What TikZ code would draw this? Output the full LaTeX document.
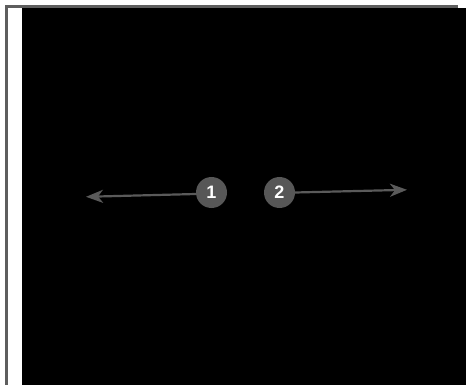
\documentclass[tikz,border=0pt]{standalone}
\usepackage{fontspec}
\setmainfont{Liberation Sans}
\usetikzlibrary{arrows.meta}
\definecolor{framegray}{HTML}{5E5E5E}
\definecolor{markgray}{HTML}{575757}
\definecolor{linegray}{HTML}{5A5A5A}
\tikzset{
  numbadge/.style={circle, fill=markgray, minimum size=31pt, inner sep=0pt,
    text=white, font=\fontsize{18}{18}\selectfont\bfseries},
  pointer/.style={draw=linegray, line width=2.2pt,
    -{Stealth[length=17pt, width=13pt, inset=5pt]}}
}
\begin{document}
\begin{tikzpicture}[x=1pt,y=-1pt]
\useasboundingbox (0,0) rectangle (466,385);
\fill[white] (0,0) rectangle (466,385);
\fill[black] (22,8) rectangle (466,385);
\fill[framegray] (5,5) rectangle (458,8);
\fill[framegray] (5,5) rectangle (8,385);
\node[numbadge] (n1) at (211.5,192.5) {1};
\node[numbadge] (n2) at (279.5,192.5) {2};
\coordinate (t1) at (86,196.8);
\coordinate (t2) at (407,189.8);
\draw[pointer] (n1.west) ++(0,1.5) -- (t1);
\draw[pointer] (n2.east) -- (t2);
\end{tikzpicture}
\end{document}
